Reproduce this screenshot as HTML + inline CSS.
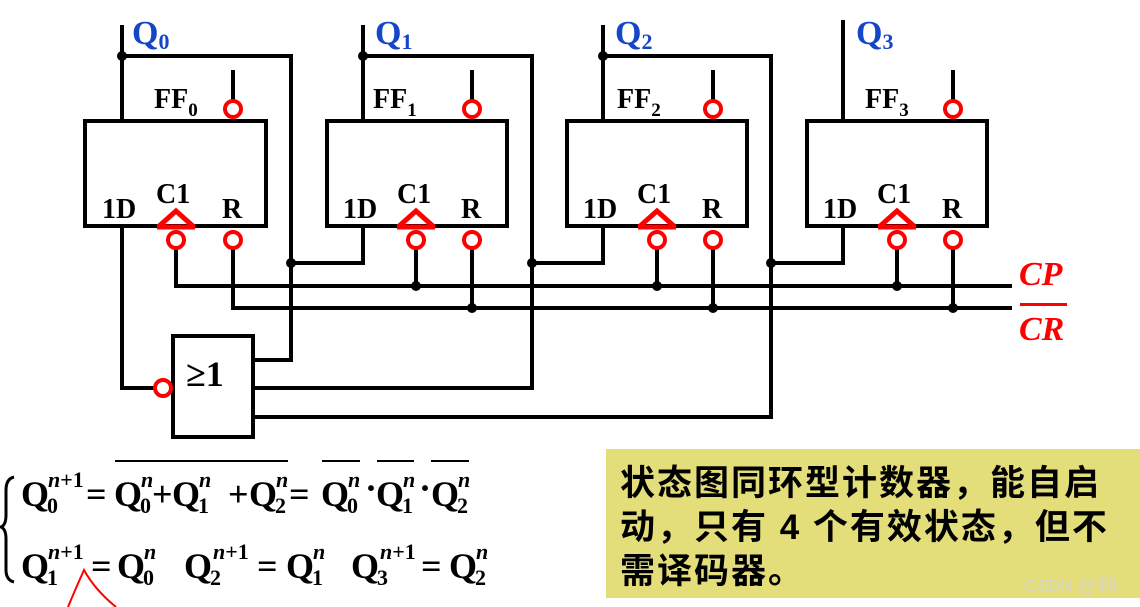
<!DOCTYPE html>
<html><head><meta charset="utf-8"><style>
body{margin:0;width:1140px;height:607px;background:#fff;overflow:hidden}
svg{display:block}
.t{font-family:"Liberation Serif",serif;font-weight:bold}
</style></head><body>
<svg width="1140" height="607" viewBox="0 0 1140 607" xmlns="http://www.w3.org/2000/svg">
<g stroke="#000" stroke-width="4" fill="none">
<rect x="85" y="121" width="181" height="105"/>
<rect x="327" y="121" width="180" height="105"/>
<rect x="567" y="121" width="180" height="105"/>
<rect x="807" y="121" width="180" height="105"/>
<path d="M122 25V121M363 25V121M603 25V121M843 20V121"/>
<path d="M122 56H291V360H253"/>
<path d="M363 56H532V388H253"/>
<path d="M603 56H771V417H253"/>
<path d="M363 226V263H291M603 226V263H532M843 226V263H771"/>
<path d="M122 226V388H157"/>
<path d="M233 70V102M472 70V102M713 70V102M953 70V102"/>
<path d="M176 247V286H1012M233 247V308H1012"/>
<path d="M416 247V286M657 247V286M897 247V286"/>
<path d="M472 247V308M713 247V308M953 247V308"/>
<rect x="173" y="336" width="80" height="101"/>
</g>
<g fill="#000">
<circle cx="122" cy="56" r="5"/><circle cx="363" cy="56" r="5"/><circle cx="603" cy="56" r="5"/>
<circle cx="291" cy="263" r="5"/><circle cx="532" cy="263" r="5"/><circle cx="771" cy="263" r="5"/>
<circle cx="416" cy="286" r="5"/><circle cx="657" cy="286" r="5"/><circle cx="897" cy="286" r="5"/>
<circle cx="472" cy="308" r="5"/><circle cx="713" cy="308" r="5"/><circle cx="953" cy="308" r="5"/>
</g>
<g stroke="#f00" stroke-width="4" fill="#fff">
<circle cx="233" cy="109" r="8"/><circle cx="472" cy="109" r="8"/><circle cx="713" cy="109" r="8"/><circle cx="953" cy="109" r="8"/>
<circle cx="176" cy="240" r="8"/><circle cx="233" cy="240" r="8"/>
<circle cx="416" cy="240" r="8"/><circle cx="472" cy="240" r="8"/>
<circle cx="657" cy="240" r="8"/><circle cx="713" cy="240" r="8"/>
<circle cx="897" cy="240" r="8"/><circle cx="953" cy="240" r="8"/>
<circle cx="163" cy="388" r="8"/>
</g>
<g stroke="#f00" stroke-width="5" fill="none">
<path d="M158 227L176 211L194 227M157 227H195"/>
<path d="M398 227L416 211L434 227M397 227H435"/>
<path d="M639 227L657 211L675 227M638 227H676"/>
<path d="M879 227L897 211L915 227M878 227H916"/>
</g>
<g class="t" font-size="28" fill="#000">
<text x="154" y="108">FF<tspan font-size="19" dy="8">0</tspan></text>
<text x="373" y="108">FF<tspan font-size="19" dy="8">1</tspan></text>
<text x="617" y="108">FF<tspan font-size="19" dy="8">2</tspan></text>
<text x="865" y="108">FF<tspan font-size="19" dy="8">3</tspan></text>
<text x="102" y="218">1D</text><text x="156" y="203">C1</text><text x="222" y="218">R</text>
<text x="343" y="218">1D</text><text x="397" y="203">C1</text><text x="461" y="218">R</text>
<text x="583" y="218">1D</text><text x="637" y="203">C1</text><text x="702" y="218">R</text>
<text x="823" y="218">1D</text><text x="877" y="203">C1</text><text x="942" y="218">R</text>
<text x="186" y="386" font-size="36">≥1</text>
</g>
<g class="t" font-size="34" fill="#1546c8">
<text x="132" y="44">Q<tspan font-size="22" dy="5">0</tspan></text>
<text x="375" y="44">Q<tspan font-size="22" dy="5">1</tspan></text>
<text x="615" y="44">Q<tspan font-size="22" dy="5">2</tspan></text>
<text x="856" y="44">Q<tspan font-size="22" dy="5">3</tspan></text>
</g>
<g class="t" font-size="34" fill="#f00" font-style="italic">
<text x="1019" y="285">CP</text>
<rect x="1020" y="303" width="47" height="3" stroke="none"/>
<text x="1019" y="340">CR</text>
</g>
<g class="t" fill="#000" font-size="36">
<text x="21" y="506">Q</text><text x="47" y="513" font-size="22">0</text><text x="48" y="487" font-size="22" font-style="italic">n<tspan font-style="normal">+1</tspan></text>
<text x="86" y="506">=</text>
<text x="114" y="506">Q</text><text x="140" y="513" font-size="22">0</text><text x="141" y="487" font-size="22" font-style="italic">n</text>
<text x="152" y="506">+</text>
<text x="172" y="506">Q</text><text x="198" y="513" font-size="22">1</text><text x="199" y="487" font-size="22" font-style="italic">n</text>
<text x="228" y="506">+</text>
<text x="249" y="506">Q</text><text x="275" y="513" font-size="22">2</text><text x="276" y="487" font-size="22" font-style="italic">n</text>
<text x="289" y="506">=</text>
<text x="321" y="506">Q</text><text x="347" y="513" font-size="22">0</text><text x="348" y="487" font-size="22" font-style="italic">n</text>
<text x="365" y="500">·</text>
<text x="376" y="506">Q</text><text x="402" y="513" font-size="22">1</text><text x="403" y="487" font-size="22" font-style="italic">n</text>
<text x="419" y="500">·</text>
<text x="431" y="506">Q</text><text x="457" y="513" font-size="22">2</text><text x="458" y="487" font-size="22" font-style="italic">n</text>

<text x="21" y="578">Q</text><text x="47" y="585" font-size="22">1</text><text x="48" y="559" font-size="22" font-style="italic">n<tspan font-style="normal">+1</tspan></text>
<text x="91" y="578">=</text>
<text x="117" y="578">Q</text><text x="143" y="585" font-size="22">0</text><text x="144" y="559" font-size="22" font-style="italic">n</text>
<text x="184" y="578">Q</text><text x="210" y="585" font-size="22">2</text><text x="213" y="559" font-size="22" font-style="italic">n<tspan font-style="normal">+1</tspan></text>
<text x="257" y="578">=</text>
<text x="286" y="578">Q</text><text x="312" y="585" font-size="22">1</text><text x="313" y="559" font-size="22" font-style="italic">n</text>
<text x="351" y="578">Q</text><text x="377" y="585" font-size="22">3</text><text x="380" y="559" font-size="22" font-style="italic">n<tspan font-style="normal">+1</tspan></text>
<text x="421" y="578">=</text>
<text x="449" y="578">Q</text><text x="475" y="585" font-size="22">2</text><text x="476" y="559" font-size="22" font-style="italic">n</text>
</g>
<g stroke="#000" stroke-width="2" fill="none">
<path d="M115 461H288M322 461H360M377 461H414M431 461H469"/>
<path d="M14 477Q6 479 6 490V515Q6 525 1 527Q6 529 6 539V570Q6 580 14 582" stroke-width="3"/>
</g>
<path d="M68 607Q75 590 84 570Q95 590 116 607" stroke="#f00" stroke-width="2" fill="none"/>
<rect x="606" y="449" width="534" height="149" fill="#e3dd7a"/>
<g font-family="'Liberation Sans','Noto Sans CJK SC',sans-serif" font-weight="bold" font-size="35" fill="#000" letter-spacing="2">
<text x="620" y="495">状态图同环型计数器，能自启</text>
<text x="620" y="539">动，只有 4 个有效状态，但不</text>
<text x="620" y="583">需译码器。</text>
</g>
<text x="1025" y="591" font-family="'Liberation Sans','Noto Sans CJK SC',sans-serif" font-size="17" fill="#d8d8c8">CSDN @羽t</text>
</svg>
</body></html>
